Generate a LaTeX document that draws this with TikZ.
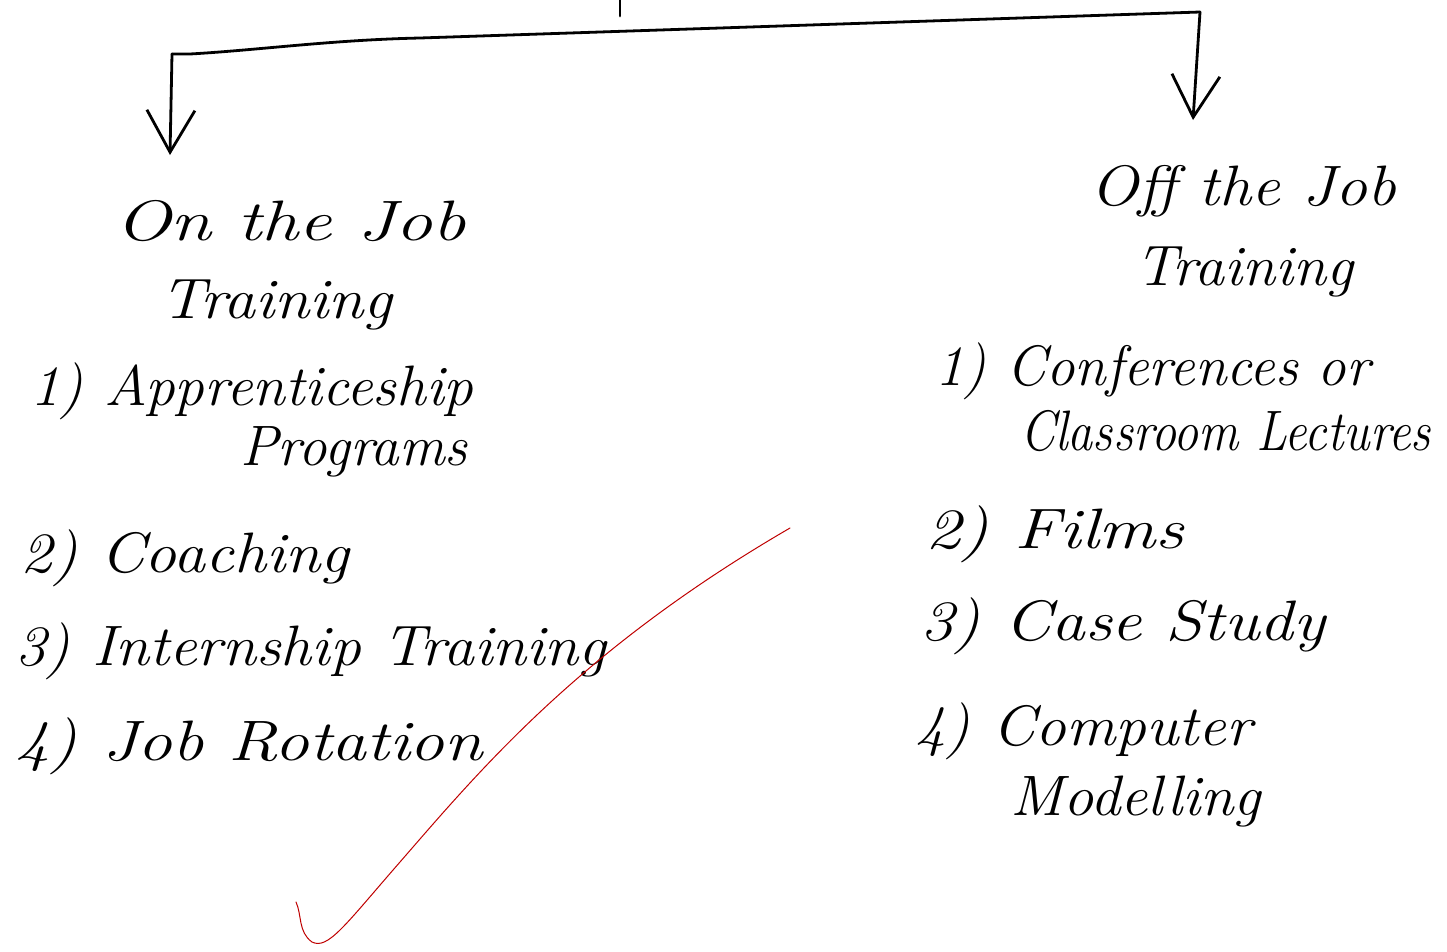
\documentclass[tikz,border=0pt]{standalone}
\usetikzlibrary{arrows.meta}
% stretch a line of text horizontally by #1
\newcommand{\hwline}[2]{\scalebox{#1}[1]{#2}}
\begin{document}
\begin{tikzpicture}[x=1pt,y=-1pt,
  hand/.style={anchor=base west,inner sep=0pt,font=\fontsize{57}{60}\selectfont\itshape},
  pen/.style={line width=2.8pt,line cap=round,line join=round},
  vtip/.style={-{Straight Barb[length=42pt,width=48pt,line width=2.8pt]}}]
\useasboundingbox (0,0) rectangle (1447,951);

% bracket joining the two branches
\coordinate (stemtop) at (620,0);
\coordinate (stembot) at (620,16);
\coordinate (lcorner) at (172,54);
\coordinate (rcorner) at (1200,12);
\coordinate (larrow) at (170,155);
\coordinate (rarrow) at (1193,120);

\draw[pen] (stemtop) -- (stembot);
\draw[pen] (lcorner) -- (190,54) .. controls (260,50) and (330,40) .. (420,38)
  -- (rcorner);
\draw[pen,vtip] (lcorner) -- (larrow);
\draw[pen,vtip] (rcorner) -- (rarrow);

% left branch
\node[hand] (onjob)   at (115,240) {\hwline{1.3}{On the Job}};
\node[hand] (ontrain) at (160,318) {\hwline{1.12}{Training}};
\node[hand] (on1)     at (30,405)  {\hwline{1.04}{1) Apprenticeship}};
\node[hand] (on1b)    at (240,465) {Programs};
\node[hand] (on2)     at (20,572)  {\hwline{1.12}{2) Coaching}};
\node[hand] (on3)     at (15,665)  {\hwline{1.08}{3) Internship Training}};
\node[hand] (on4)     at (15,760)  {\hwline{1.22}{4) Job Rotation}};

% right branch
\node[hand] (offjob)   at (1090,205) {\hwline{1.12}{Off the Job}};
\node[hand] (offtrain) at (1135,285) {\hwline{1.05}{Training}};
\node[hand] (off1)     at (935,385)  {\hwline{1.0}{1) Conferences or}};
\node[hand] (off1b)    at (1020,450) {\hwline{0.88}{Classroom Lectures}};
\node[hand] (off2)     at (925,548)  {\hwline{1.25}{2) Films}};
\node[hand] (off3)     at (920,640)  {\hwline{1.18}{3) Case Study}};
\node[hand] (off4)     at (915,745)  {\hwline{1.08}{4) Computer}};
\node[hand] (off4b)    at (1010,815) {\hwline{1.06}{Modelling}};

% check mark
\coordinate (tickstart) at (296,902);
\coordinate (tickend) at (790,528);
\draw[red!75!black,line width=1pt,line cap=round]
  (tickstart) .. controls (302,915) and (298,932) .. (312,942)
  .. controls (328,950) and (345,925) .. (400,862)
  .. controls (480,770) and (580,650) .. (tickend);
\end{tikzpicture}
\end{document}
